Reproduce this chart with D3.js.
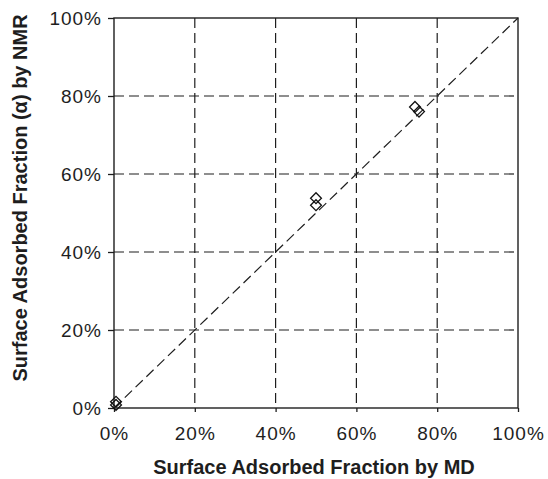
<!DOCTYPE html>
<html>
<head>
<meta charset="utf-8">
<script src="https://cdn.jsdelivr.net/npm/d3@7"></script>
<style>
  html, body { margin: 0; padding: 0; background: #fff; }
  svg { display: block; }
</style>
</head>
<body>
<svg id="chart" width="548" height="479"></svg>
<script>
// Surface adsorbed fraction: MD simulation (x) vs NMR measurement (y), in percent
const mdFraction  = [0.5, 0.5, 50, 50, 74.5, 75.5];
const nmrFraction = [1.6, 0.8, 53.8, 52.0, 77.2, 76.0];
const tickValues  = [0, 20, 40, 60, 80, 100];
const xTitle = "Surface Adsorbed Fraction by MD";
const yTitle = "Surface Adsorbed Fraction (\u03B1) by NMR";

const svg = d3.select("#chart");
const margin = { left: 114, right: 30, top: 18, bottom: 71 };
const W = 548, H = 479;
const iw = W - margin.left - margin.right;
const ih = H - margin.top - margin.bottom;

const x = d3.scaleLinear().domain([0, 100]).range([0, iw]);
const y = d3.scaleLinear().domain([0, 100]).range([ih, 0]);

const g = svg.append("g").attr("transform", `translate(${margin.left},${margin.top})`);
const ink = "#1e1e1e";
const font = "Arial, 'Liberation Sans', Helvetica, sans-serif";

// dashed grid
const inner = tickValues.filter(v => v > 0 && v < 100);
g.selectAll(".vgrid").data(inner).enter().append("line")
  .attr("x1", d => x(d)).attr("x2", d => x(d))
  .attr("y1", 0).attr("y2", ih)
  .attr("stroke", ink).attr("stroke-width", 1.2).attr("stroke-dasharray", "10,5");
g.selectAll(".hgrid").data(inner).enter().append("line")
  .attr("y1", d => y(d)).attr("y2", d => y(d))
  .attr("x1", 0).attr("x2", iw)
  .attr("stroke", ink).attr("stroke-width", 1.2).attr("stroke-dasharray", "10,5");

// 1:1 reference line
g.append("line")
  .attr("x1", x(0)).attr("y1", y(0)).attr("x2", x(100)).attr("y2", y(100))
  .attr("stroke", ink).attr("stroke-width", 1.2).attr("stroke-dasharray", "10,5");

// axes
const xAxis = d3.axisBottom(x).tickValues(tickValues).tickFormat(d => d + "%").tickSize(4).tickPadding(15);
const yAxis = d3.axisLeft(y).tickValues(tickValues).tickFormat(d => d + "%").tickSize(6).tickPadding(6);

const gx = g.append("g").attr("transform", `translate(0,${ih})`).call(xAxis);
const gy = g.append("g").call(yAxis);
[gx, gy].forEach(a => {
  a.select(".domain").remove();
  a.selectAll(".tick line").attr("stroke", ink).attr("stroke-width", 1.3);
  a.selectAll(".tick text")
    .attr("fill", ink)
    .style("font-family", font)
    .style("font-size", "19px")
    .style("letter-spacing", "1px");
});

// plot frame
g.append("rect").attr("x", 0).attr("y", 0).attr("width", iw).attr("height", ih)
  .attr("fill", "none").attr("stroke", ink).attr("stroke-width", 1.4);

// diamond markers
const diamond = d3.symbol().type(d3.symbolDiamond2).size(75);
g.selectAll(".pt").data(mdFraction.map((v, i) => [v, nmrFraction[i]])).enter()
  .append("path")
  .attr("d", diamond)
  .attr("transform", d => `translate(${x(d[0])},${y(d[1])})`)
  .attr("fill", "none").attr("stroke", "#111").attr("stroke-width", 1.3);

// axis titles
svg.append("text")
  .attr("x", margin.left + iw / 2 - 2).attr("y", 474)
  .attr("text-anchor", "middle")
  .attr("fill", ink)
  .style("font-family", font).style("font-size", "20px").style("font-weight", "bold")
  .text(xTitle);

svg.append("text")
  .attr("transform", `translate(27,${margin.top + ih / 2 - 15}) rotate(-90)`)
  .attr("text-anchor", "middle")
  .attr("fill", ink)
  .style("font-family", font).style("font-size", "20px").style("font-weight", "bold")
  .text(yTitle);
</script>
</body>
</html>
